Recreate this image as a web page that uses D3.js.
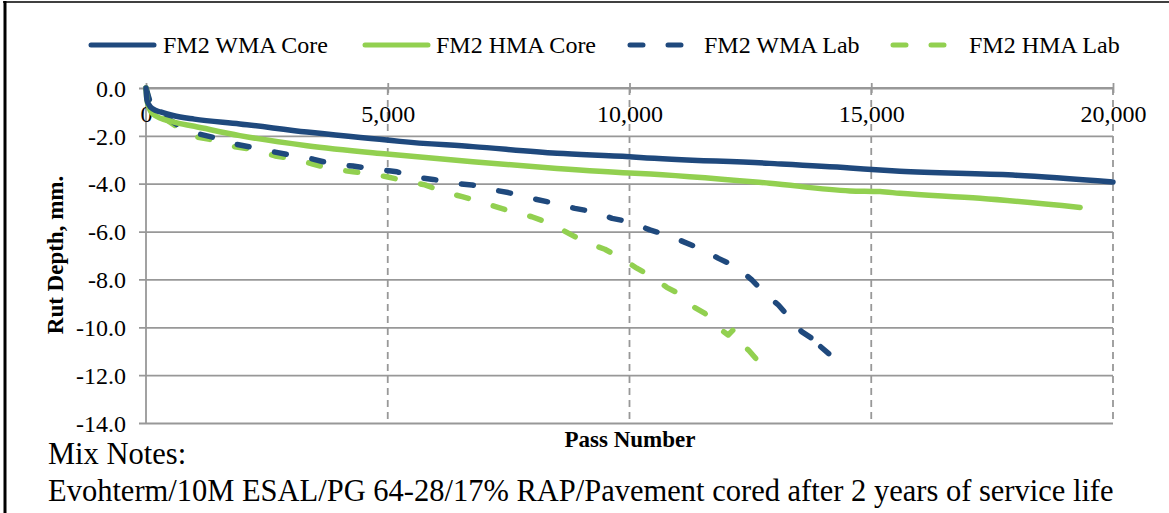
<!DOCTYPE html>
<html>
<head>
<meta charset="utf-8">
<script src="https://cdn.jsdelivr.net/npm/d3@7"></script>
<style>
  html, body { margin: 0; padding: 0; background: #fff; }
  svg { display: block; font-family: "Liberation Serif", "Times New Roman", serif; }
</style>
</head>
<body>
<svg id="chart" width="1169" height="513"></svg>
<script>
// ---------------- data ----------------
const seriesNames = ["FM2 WMA Core", "FM2 HMA Core", "FM2 WMA Lab", "FM2 HMA Lab"];

const wmaCorePasses = [0, 20, 60, 145, 300, 560, 1000, 1940, 3330, 4980, 5250, 6760, 8500, 10000, 10220, 12900, 14560, 15180, 15590, 17930, 20000];
const wmaCoreDepth  = [0, -0.5, -0.7, -0.88, -1.0, -1.15, -1.3, -1.5, -1.84, -2.17, -2.23, -2.45, -2.73, -2.87, -2.9, -3.15, -3.34, -3.43, -3.48, -3.64, -3.93];

const hmaCorePasses = [0, 20, 60, 145, 560, 1000, 1940, 3330, 4980, 6760, 8500, 10000, 10220, 12900, 14560, 15180, 15590, 17250, 19320];
const hmaCoreDepth  = [0, -0.5, -0.8, -1.09, -1.42, -1.6, -1.99, -2.41, -2.76, -3.08, -3.36, -3.55, -3.57, -3.98, -4.3, -4.33, -4.4, -4.61, -4.99];

const wmaLabPasses = [0, 100, 390, 700, 1050, 1470, 1840, 2250, 2670, 3080, 3450, 3870, 4280, 4690, 5190, 5500, 5940, 6330, 6740, 7110, 7490, 7880, 8290, 8870, 9250, 9640, 10010, 10420, 10770, 11110, 11530, 11840, 12210, 12530, 12800, 13080, 13350, 13560, 13770, 13850, 13830, 14120];
const wmaLabDepth  = [0, -0.7, -1.2, -1.6, -1.9, -2.1, -2.34, -2.5, -2.68, -2.84, -2.97, -3.18, -3.26, -3.38, -3.5, -3.7, -3.82, -3.98, -4.05, -4.23, -4.37, -4.57, -4.75, -5.03, -5.17, -5.45, -5.59, -5.93, -6.14, -6.42, -6.77, -7.12, -7.47, -8.02, -8.58, -9.07, -9.69, -10.18, -10.46, -10.2, -10.6, -11.1];

const hmaLabPasses = [0, 100, 330, 700, 1050, 1470, 1840, 2250, 2670, 3080, 3450, 3870, 4280, 4690, 5000, 5300, 5770, 6140, 6540, 6910, 7280, 7630, 7980, 8360, 8800, 9140, 9490, 9840, 10150, 10460, 10770, 11040, 11320, 11560, 11800, 12040, 12150, 12250, 12460, 12730];
const hmaLabDepth  = [0, -0.8, -1.2, -1.7, -2.05, -2.2, -2.46, -2.58, -2.84, -2.97, -3.18, -3.4, -3.5, -3.6, -3.72, -3.85, -4.05, -4.33, -4.54, -4.75, -4.99, -5.21, -5.38, -5.66, -6.14, -6.49, -6.74, -7.12, -7.53, -7.88, -8.33, -8.61, -9.14, -9.42, -9.97, -10.32, -10.1, -10.6, -10.95, -11.58];

const xTickValues = [0, 5000, 10000, 15000, 20000];
const yTickValues = [0, -2, -4, -6, -8, -10, -12, -14];

const xTitle = "Pass Number";
const yTitle = "Rut Depth, mm.";
const noteLines = ["Mix Notes:", "Evohterm/10M ESAL/PG 64-28/17% RAP/Pavement cored after 2 years of service life"];

// ---------------- styles ----------------
const BLUE = "#1F497D", GREEN = "#92D050", GRID = "#989898";
const seriesStyle = [
  { color: BLUE,  dash: null },
  { color: GREEN, dash: null },
  { color: BLUE,  dash: "12,26" },
  { color: GREEN, dash: "12,26" }
];

const svg = d3.select("#chart");

// frame
svg.append("line").attr("x1", 3).attr("x2", 1169).attr("y1", 2).attr("y2", 2)
  .attr("stroke", "#000").attr("stroke-width", 1.5);
svg.append("line").attr("x1", 5).attr("x2", 5).attr("y1", 1).attr("y2", 513)
  .attr("stroke", "#000").attr("stroke-width", 3);

const x = d3.scaleLinear().domain([0, 20000]).range([146, 1113]);
const y = d3.scaleLinear().domain([0, -14]).range([88, 423]);

const fmtY = d => d3.format(".1f")(d).replace("\u2212", "-");

// horizontal gridlines (solid) with y axis ticks
const yAxis = d3.axisLeft(y).tickValues(yTickValues).tickSize(-(1113 - 146)).tickFormat(fmtY).tickPadding(20);
const gy = svg.append("g").attr("transform", "translate(146,0)").call(yAxis)
  .attr("font-family", "Liberation Serif");
gy.select(".domain").remove();
gy.selectAll(".tick line").attr("x1", -7).attr("stroke", GRID).attr("stroke-width", 1.8);
gy.selectAll(".tick text").attr("font-size", 24).attr("fill", "#000")
  .attr("x", -20).attr("dy", "0.34em");

// vertical dashed gridlines
svg.append("g").selectAll("line").data(xTickValues.filter(d => d > 0)).join("line")
  .attr("x1", d => x(d)).attr("x2", d => x(d)).attr("y1", y(0)).attr("y2", y(-14))
  .attr("stroke", GRID).attr("stroke-width", 1.8).attr("stroke-dasharray", "7,5");

// y axis line
svg.append("line").attr("x1", x(0)).attr("x2", x(0)).attr("y1", y(0)).attr("y2", y(-14))
  .attr("stroke", GRID).attr("stroke-width", 1.8);

// x axis at y = 0 (top) with cross ticks, labels below
const xAxis = d3.axisBottom(x).tickValues(xTickValues).tickSize(5).tickFormat(d3.format(",")).tickPadding(12);
const gx = svg.append("g").attr("transform", `translate(0,${y(0)})`).call(xAxis)
  .attr("font-family", "Liberation Serif");
gx.select(".domain").attr("stroke", GRID).attr("stroke-width", 1.8).attr("d", `M${x(0)},0H${x(20000)}`);
gx.selectAll(".tick line").attr("y1", -5).attr("y2", 5).attr("stroke", GRID).attr("stroke-width", 1.8);
gx.selectAll(".tick text").attr("font-size", 24).attr("fill", "#000");

// series
const seriesData = [
  d3.zip(wmaCorePasses, wmaCoreDepth),
  d3.zip(hmaCorePasses, hmaCoreDepth),
  d3.zip(wmaLabPasses, wmaLabDepth),
  d3.zip(hmaLabPasses, hmaLabDepth)
];
const line = d3.line().x(d => x(d[0])).y(d => y(d[1])).curve(d3.curveMonotoneX);
const lineLab = d3.line().x(d => x(d[0])).y(d => y(d[1])).curve(d3.curveLinear);
// draw order: lab lines first, cores on top
[3, 2, 1, 0].forEach(i => {
  svg.append("path").datum(seriesData[i])
    .attr("d", i < 2 ? line : lineLab)
    .attr("fill", "none")
    .attr("stroke", seriesStyle[i].color)
    .attr("stroke-width", 5.5)
    .attr("stroke-linecap", "round")
    .attr("stroke-linejoin", "round")
    .attr("stroke-dasharray", seriesStyle[i].dash);
});

// legend
const legendPos = [{ sx: 88, tx: 163 }, { sx: 362, tx: 436 }, { sx: 627, tx: 704 }, { sx: 890, tx: 969 }];
const legendY = 45;
seriesNames.forEach((name, i) => {
  const p = legendPos[i];
  svg.append("line")
    .attr("x1", p.sx + 3).attr("x2", p.sx + 66).attr("y1", legendY).attr("y2", legendY)
    .attr("stroke", seriesStyle[i].color).attr("stroke-width", 5)
    .attr("stroke-linecap", "round")
    .attr("stroke-dasharray", seriesStyle[i].dash ? "13,25" : null);
  svg.append("text").attr("x", p.tx).attr("y", legendY).attr("dy", "0.34em")
    .attr("font-size", 24).attr("fill", "#000").text(name);
});

// axis titles
svg.append("text").attr("transform", "translate(63,255) rotate(-90)")
  .attr("text-anchor", "middle").attr("font-weight", "bold").attr("font-size", 23).text(yTitle);
svg.append("text").attr("x", 630).attr("y", 447)
  .attr("text-anchor", "middle").attr("font-weight", "bold").attr("font-size", 23).text(xTitle);

// notes
svg.append("text").attr("x", 48).attr("y", 464).attr("font-size", 30.5).text(noteLines[0]);
svg.append("text").attr("x", 48).attr("y", 501).attr("font-size", 30.5).text(noteLines[1]);
</script>
</body>
</html>
